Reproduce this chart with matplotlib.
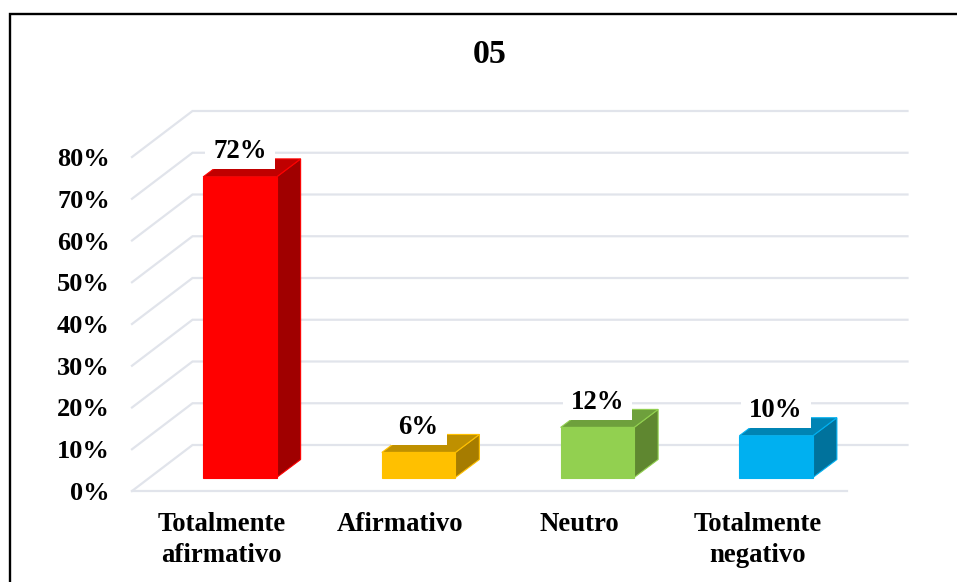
import matplotlib
matplotlib.use("Agg")
import matplotlib.pyplot as plt
from matplotlib.patches import Polygon
from matplotlib.lines import Line2D

categories = ["Totalmente\nafirmativo", "Afirmativo", "Neutro", "Totalmente\nnegativo"]
values = [72, 6, 12, 10]
value_labels = ["72%", "6%", "12%", "10%"]
y_ticks = [0, 10, 20, 30, 40, 50, 60, 70, 80]
y_tick_labels = ["0%", "10%", "20%", "30%", "40%", "50%", "60%", "70%", "80%"]
front_colors = ["#FF0000", "#FFC000", "#92D050", "#00B0F0"]
side_colors = ["#A00000", "#A67C00", "#5F8730", "#00729C"]
top_colors = ["#C00000", "#BF9000", "#6EA03C", "#0084B4"]
title = "05"

W, H = 957, 582
plt.rcParams["font.family"] = ["Liberation Serif", "DejaVu Serif"]
plt.rcParams["font.weight"] = "bold"
fig = plt.figure(figsize=(W / 100, H / 100), dpi=100, facecolor="white")

L, R, Y0, Y80 = 132, 847, 491, 157
ax = fig.add_axes([L / W, 1 - Y0 / H, (R - L) / W, (Y0 - Y80) / H])
ax.set_xlim(0, 4)
ax.set_ylim(0, 80)
ax.patch.set_alpha(0)
for s in ax.spines.values():
    s.set_visible(False)

ux = (R - L) / 4
uy = (Y0 - Y80) / 80

wall_dx, wall_dy = 60.5 / ux, 46 / uy
near_dx, near_dy = 18.5 / ux, 13.5 / uy
bar_dx, bar_dy = 24 / ux, 18 / uy
bar_w = 73.5 / ux

grid = "#E1E4EB"
for t in y_ticks:
    ax.plot([0, wall_dx, 4 + wall_dx], [t, t + wall_dy, t + wall_dy],
            color=grid, lw=1.6, clip_on=False, zorder=1, solid_joinstyle="miter")
ax.plot([0, 4], [0, 0], color=grid, lw=1.6, clip_on=False, zorder=1)

for i, v in enumerate(values):
    x0 = i + 0.5 + near_dx - bar_w / 2
    x1 = x0 + bar_w
    y0 = near_dy
    y1 = near_dy + v
    ec = front_colors[i]
    ax.add_patch(Polygon([(x1, y0), (x1 + bar_dx, y0 + bar_dy), (x1 + bar_dx, y1 + bar_dy), (x1, y1)],
                         fc=side_colors[i], ec=ec, lw=0.8, clip_on=False, zorder=3))
    ax.add_patch(Polygon([(x0, y1), (x1, y1), (x1 + bar_dx, y1 + bar_dy), (x0 + bar_dx, y1 + bar_dy)],
                         fc=top_colors[i], ec=ec, lw=0.8, clip_on=False, zorder=3))
    ax.bar(x0, v, width=bar_w, bottom=y0, align="edge", color=ec, ec=ec, lw=0.8,
           clip_on=False, zorder=4)
    ax.annotate(value_labels[i], (x0 + bar_w / 2, y1), xytext=(0, 18), textcoords="offset points",
                ha="center", va="center", fontsize=19.3, fontweight="bold", color="black",
                zorder=5, annotation_clip=False,
                bbox=dict(fc="white", ec="none", boxstyle="square,pad=0.3", mutation_aspect=0.6))

ax.set_yticks(y_ticks, y_tick_labels, fontsize=19.0, fontweight="bold")
ax.set_xticks([i + 0.5 for i in range(4)], categories, fontsize=19.3, fontweight="bold",
              linespacing=1.3)
ax.tick_params(axis="y", length=0, pad=16)
ax.tick_params(axis="x", length=0, pad=15)

fig.text(489.5 / W, 1 - 54.5 / H, title, ha="center", va="center", fontsize=24.5, fontweight="bold")

fig.add_artist(Line2D([10 / W, 10 / W, 1], [0, 1 - 13.5 / H, 1 - 13.5 / H],
                      transform=fig.transFigure, color="black", lw=1.7, solid_joinstyle="miter"))
fig.savefig("out.png", dpi=100, facecolor="white")
